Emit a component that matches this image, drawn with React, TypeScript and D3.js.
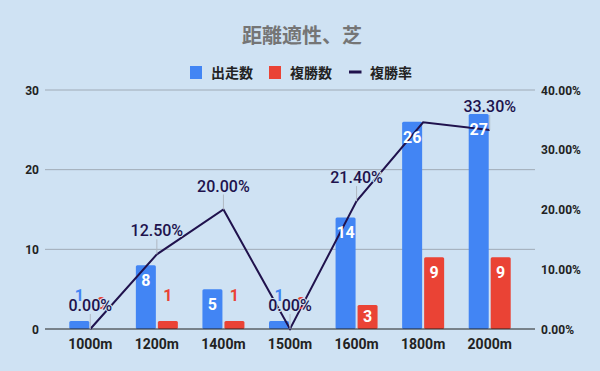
import { useEffect, useRef } from 'react';
import * as d3 from 'd3';

const distances = ['1000m', '1200m', '1400m', '1500m', '1600m', '1800m', '2000m'];
const starts = [1, 8, 5, 1, 14, 26, 27];
const places = [0, 1, 1, 0, 3, 9, 9];
const placeRates = [0, 12.5, 20, 0, 21.4, 34.6, 33.3];
const rateLabelShown = [true, true, true, true, true, false, true];
const leftTicks = [0, 10, 20, 30];
const rightTicks = [0, 10, 20, 30, 40];

const BG = '#cfe2f3';
const BLUE = '#4285f4';
const RED = '#ea4335';
const NAVY = '#20124d';
const FONT = "Roboto, 'Noto Sans CJK JP', sans-serif";

export default function App() {
  const svgRef = useRef<SVGSVGElement>(null);

  useEffect(() => {
    if (!svgRef.current) return;
    document.body.style.margin = '0';

    const svg = d3.select(svgRef.current);
    svg.selectAll('*').remove();

    const width = 600;
    const height = 371;
    const plotLeft = 45;
    const plotRight = 535;

    svg.attr('width', width).attr('height', height).style('font-family', FONT);

    svg.append('rect').attr('width', width).attr('height', height).attr('fill', BG);

    // scales
    const x = d3.scaleBand<string>().domain(distances).range([57, 523]).padding(0);
    const yLeft = d3.scaleLinear().domain([0, 30]).range([329, 90]);
    const yRight = d3.scaleLinear().domain([0, 40]).range([329, 90]);
    const cx = (d: string) => (x(d) as number) + x.bandwidth() / 2;

    // title
    svg
      .append('text')
      .attr('x', 302)
      .attr('y', 43)
      .attr('text-anchor', 'middle')
      .attr('font-size', 20)
      .attr('font-weight', 'bold')
      .attr('fill', '#757575')
      .text('距離適性、芝');

    // legend
    const legend = svg.append('g').attr('font-size', 14).attr('font-weight', 'bold').attr('fill', '#222');
    legend.append('rect').attr('x', 190).attr('y', 66).attr('width', 12).attr('height', 13).attr('fill', BLUE);
    legend.append('text').attr('x', 211).attr('y', 78).text('出走数');
    legend.append('rect').attr('x', 269).attr('y', 66).attr('width', 12).attr('height', 13).attr('fill', RED);
    legend.append('text').attr('x', 290).attr('y', 78).text('複勝数');
    legend.append('rect').attr('x', 349).attr('y', 70.5).attr('width', 12.5).attr('height', 3).attr('fill', NAVY);
    legend.append('text').attr('x', 370).attr('y', 78).text('複勝率');

    // gridlines
    svg
      .append('g')
      .selectAll('line')
      .data(leftTicks.filter((t) => t > 0))
      .enter()
      .append('line')
      .attr('x1', plotLeft)
      .attr('x2', plotRight)
      .attr('y1', (d) => yLeft(d))
      .attr('y2', (d) => yLeft(d))
      .attr('stroke', '#9faab6')
      .attr('stroke-width', 1);

    // left axis labels
    svg
      .append('g')
      .selectAll('text')
      .data(leftTicks)
      .enter()
      .append('text')
      .attr('x', 39)
      .attr('y', (d) => yLeft(d) + 4.5)
      .attr('text-anchor', 'end')
      .attr('font-size', 12)
      .attr('font-weight', 'bold')
      .attr('fill', '#222')
      .text((d) => d);

    // right axis labels
    svg
      .append('g')
      .selectAll('text')
      .data(rightTicks)
      .enter()
      .append('text')
      .attr('x', 541)
      .attr('y', (d) => yRight(d) + 4.5)
      .attr('font-size', 12)
      .attr('font-weight', 'bold')
      .attr('fill', '#222')
      .text((d) => d.toFixed(2) + '%');

    // x labels
    svg
      .append('g')
      .selectAll('text')
      .data(distances)
      .enter()
      .append('text')
      .attr('x', (d) => cx(d))
      .attr('y', 349)
      .attr('text-anchor', 'middle')
      .attr('font-size', 14)
      .attr('font-weight', 'bold')
      .attr('fill', '#222')
      .text((d) => d);

    // bars
    const bars = svg.append('g');
    bars
      .selectAll('.blue')
      .data(distances)
      .enter()
      .append('rect')
      .attr('x', (d) => cx(d) - 21)
      .attr('y', (d, i) => yLeft(starts[i]))
      .attr('width', 20)
      .attr('height', (d, i) => yLeft(0) - yLeft(starts[i]))
      .attr('rx', 1.5)
      .attr('fill', BLUE);
    bars
      .selectAll('.red')
      .data(distances)
      .enter()
      .append('rect')
      .attr('x', (d) => cx(d) + 1)
      .attr('y', (d, i) => yLeft(places[i]))
      .attr('width', 20)
      .attr('height', (d, i) => yLeft(0) - yLeft(places[i]))
      .attr('rx', 1.5)
      .attr('fill', RED);

    // baseline
    svg
      .append('line')
      .attr('x1', plotLeft)
      .attr('x2', plotRight)
      .attr('y1', yLeft(0))
      .attr('y2', yLeft(0))
      .attr('stroke', '#222')
      .attr('stroke-width', 1.2);

    // rate line
    const line = d3
      .line<number>()
      .x((d, i) => cx(distances[i]))
      .y((d) => yRight(d));
    svg
      .append('path')
      .datum(placeRates)
      .attr('fill', 'none')
      .attr('stroke', NAVY)
      .attr('stroke-width', 2)
      .attr('d', line);

    // bar labels
    const barLabel = (values: number[], offset: number, color: string) => {
      svg
        .append('g')
        .selectAll('text')
        .data(values)
        .enter()
        .append('text')
        .attr('x', (d, i) => cx(distances[i]) + offset)
        .attr('y', (d) => {
          const top = yLeft(d);
          const h = yLeft(0) - top;
          return h >= 20 ? Math.min(top + 21, yLeft(0) - 7) : top - 20;
        })
        .attr('text-anchor', 'middle')
        .attr('font-size', 16)
        .attr('font-weight', 'bold')
        .attr('fill', (d) => (yLeft(0) - yLeft(d) >= 20 ? '#fff' : color))
        .text((d) => d);
    };
    barLabel(starts, -11, BLUE);
    barLabel(places, 11, RED);

    const rateItems = placeRates.map((v, i) => ({ v, i })).filter((d) => rateLabelShown[d.i]);

    // rate label stems
    svg
      .append('g')
      .selectAll('line')
      .data(rateItems)
      .enter()
      .append('line')
      .attr('x1', (d) => cx(distances[d.i]))
      .attr('x2', (d) => cx(distances[d.i]))
      .attr('y1', (d) => yRight(d.v) - 15)
      .attr('y2', (d) => yRight(d.v))
      .attr('stroke', '#b0b8c2')
      .attr('stroke-width', 1);

    // rate labels
    svg
      .append('g')
      .selectAll('text')
      .data(rateItems)
      .enter()
      .append('text')
      .attr('x', (d) => cx(distances[d.i]))
      .attr('y', (d) => yRight(d.v) - 18)
      .attr('text-anchor', 'middle')
      .attr('font-size', 16)
      .attr('font-weight', 500)
      .attr('fill', NAVY)
      .attr('stroke', BG)
      .attr('stroke-width', 2)
      .attr('paint-order', 'stroke')
      .text((d) => d.v.toFixed(2) + '%');
  }, []);

  return <svg ref={svgRef} style={{ display: 'block' }} />;
}
